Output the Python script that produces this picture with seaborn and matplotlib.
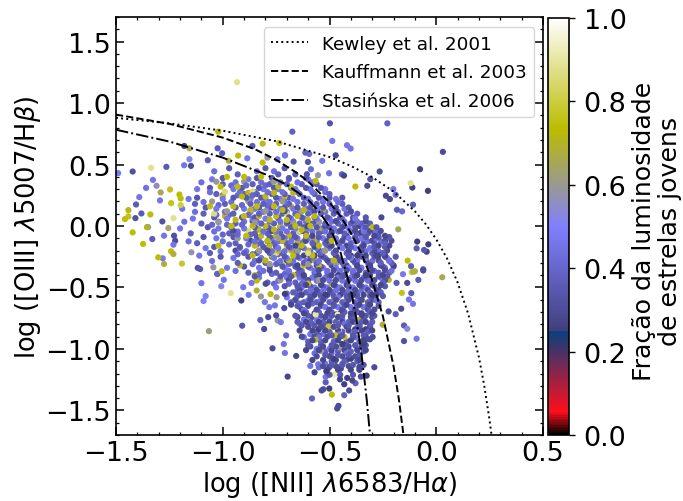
import pandas as pd
import matplotlib
matplotlib.use("Agg")
import matplotlib.pyplot as plt
from matplotlib.cm import ScalarMappable
from matplotlib.colors import Normalize
from matplotlib.ticker import MultipleLocator
import seaborn as sns

# demarcation curves
KEWLEY_X = [-1.5, -1.25, -1.0, -0.75, -0.5, -0.4, -0.3, -0.2, -0.1, -0.05, 0.0, 0.05, 0.1, 0.15, 0.2, 0.225, 0.25, 0.26]
KEWLEY_Y = [0.88, 0.835, 0.775, 0.69, 0.561, 0.489, 0.398, 0.28, 0.12, 0.017, -0.108, -0.262, -0.459, -0.716, -1.069, -1.30, -1.583, -1.715]
KAUFF_X = [-1.5, -1.25, -1.0, -0.85, -0.75, -0.65, -0.6, -0.5, -0.45, -0.4, -0.35, -0.3, -0.25, -0.2, -0.175, -0.153]
KAUFF_Y = [0.906, 0.831, 0.719, 0.625, 0.538, 0.429, 0.362, 0.191, 0.084, -0.056, -0.225, -0.443, -0.733, -1.14, -1.411, -1.705]
STAS_X = [-1.5, -1.25, -1.0, -0.8, -0.7, -0.6, -0.55, -0.5, -0.45, -0.4, -0.375, -0.35, -0.325, -0.31]
STAS_Y = [0.783, 0.687, 0.556, 0.42, 0.335, 0.213, 0.12, -0.007, -0.205, -0.516, -0.748, -1.042, -1.422, -1.702]

# dense cloud, estimated row by row: (log OIII/Hb, [log NII/Ha ...])
MID_ROWS = [
    (0.42, [-0.93, -0.74, -0.66]),
    (0.34, [-1.0, -0.86, -0.78, -0.7, -0.63, -0.56]),
    (0.26, [-1.03, -0.9, -0.84, -0.77, -0.71, -0.64, -0.57, -0.5]),
    (0.18, [-1.13, -0.99, -0.87, -0.81, -0.75, -0.69, -0.62, -0.56, -0.5, -0.44]),
    (0.10, [-1.09, -0.95, -0.83, -0.78, -0.72, -0.66, -0.6, -0.54, -0.48, -0.42, -0.37]),
    (0.02, [-1.1, -0.94, -0.82, -0.76, -0.7, -0.64, -0.58, -0.52, -0.46, -0.4, -0.35, -0.31]),
    (-0.06, [-1.15, -0.97, -0.85, -0.79, -0.73, -0.67, -0.61, -0.55, -0.49, -0.43, -0.37, -0.32, -0.27]),
    (-0.14, [-1.12, -0.94, -0.82, -0.76, -0.7, -0.64, -0.58, -0.52, -0.46, -0.4, -0.34, -0.29, -0.24]),
    (-0.22, [-1.06, -0.9, -0.84, -0.78, -0.72, -0.66, -0.6, -0.54, -0.48, -0.42, -0.36, -0.3, -0.25]),
    (-0.30, [-0.93, -0.8, -0.74, -0.68, -0.62, -0.56, -0.5, -0.44, -0.38, -0.32, -0.26, -0.21]),
    (-0.38, [-0.88, -0.75, -0.69, -0.63, -0.57, -0.51, -0.45, -0.39, -0.33, -0.27, -0.22]),
    (-0.46, [-0.79, -0.66, -0.6, -0.54, -0.48, -0.42, -0.36, -0.3, -0.25]),
    (-0.54, [-0.67, -0.61, -0.55, -0.49, -0.43, -0.37, -0.31, -0.26]),
    (-0.62, [-0.68, -0.62, -0.56, -0.5, -0.44, -0.38, -0.32, -0.27]),
    (-0.70, [-0.61, -0.55, -0.49, -0.43, -0.37, -0.31]),
    (-0.78, [-0.65, -0.59, -0.53, -0.47, -0.41, -0.35, -0.3]),
    (-0.86, [-0.56, -0.5, -0.44, -0.38, -0.32]),
    (-0.94, [-0.6, -0.54, -0.48, -0.42, -0.36]),
    (-1.02, [-0.52, -0.46, -0.4, -0.34]),
    (-1.10, [-0.49, -0.43, -0.37]),
]
MID2_ROWS = [
    (0.47, [-0.97, -0.8, -0.71]),
    (0.39, [-1.0, -0.84, -0.77, -0.69, -0.61]),
    (0.31, [-1.06, -0.91, -0.83, -0.76, -0.68, -0.61, -0.54]),
    (0.23, [-1.12, -0.95, -0.89, -0.82, -0.75, -0.69, -0.62, -0.55, -0.5, -0.44]),
    (0.15, [-1.08, -0.94, -0.83, -0.77, -0.71, -0.65, -0.59, -0.53, -0.47, -0.41]),
    (0.07, [-1.04, -0.91, -0.85, -0.74, -0.69, -0.63, -0.57, -0.51, -0.45, -0.39, -0.33]),
    (-0.01, [-1.07, -0.96, -0.85, -0.79, -0.73, -0.68, -0.62, -0.56, -0.5, -0.44, -0.38, -0.33, -0.28]),
    (-0.09, [-1.09, -0.95, -0.84, -0.78, -0.72, -0.66, -0.61, -0.55, -0.49, -0.43, -0.38, -0.33, -0.27, -0.22]),
    (-0.17, [-1.04, -0.92, -0.81, -0.75, -0.69, -0.63, -0.57, -0.51, -0.45, -0.4, -0.35, -0.29, -0.24]),
    (-0.25, [-1.01, -0.88, -0.77, -0.71, -0.65, -0.59, -0.53, -0.47, -0.41, -0.35, -0.29, -0.24, -0.19]),
    (-0.33, [-0.9, -0.78, -0.72, -0.66, -0.6, -0.54, -0.48, -0.43, -0.37, -0.31, -0.25, -0.2]),
    (-0.41, [-0.85, -0.73, -0.68, -0.62, -0.56, -0.5, -0.44, -0.38, -0.33, -0.27, -0.23]),
    (-0.49, [-0.71, -0.65, -0.59, -0.53, -0.47, -0.41, -0.35, -0.29, -0.24]),
    (-0.57, [-0.65, -0.59, -0.54, -0.48, -0.42, -0.37, -0.31, -0.25]),
    (-0.65, [-0.65, -0.6, -0.54, -0.48, -0.43, -0.37, -0.32, -0.27]),
    (-0.73, [-0.66, -0.6, -0.54, -0.49, -0.44, -0.39, -0.33, -0.29]),
    (-0.81, [-0.63, -0.57, -0.52, -0.46, -0.41, -0.36, -0.31]),
    (-0.89, [-0.55, -0.49, -0.44, -0.39, -0.34]),
    (-0.97, [-0.6, -0.54, -0.49, -0.43, -0.38, -0.33]),
    (-1.05, [-0.52, -0.46, -0.41, -0.36]),
    (-1.13, [-0.49, -0.44, -0.39, -0.34]),
    (-1.21, [-0.5, -0.45, -0.39]),
]
LIGHT_ROWS = [
    (0.38, [-1.05, -0.88, -0.69, -0.6]),
    (0.30, [-1.12, -0.95, -0.81, -0.74, -0.66, -0.59, -0.52]),
    (0.22, [-1.16, -1.0, -0.87, -0.8, -0.73, -0.67, -0.6, -0.53, -0.47]),
    (0.14, [-1.19, -1.03, -0.9, -0.85, -0.79, -0.73, -0.67, -0.61, -0.55, -0.49, -0.43]),
    (0.06, [-1.14, -0.98, -0.86, -0.8, -0.74, -0.68, -0.62, -0.56, -0.5, -0.44, -0.38]),
    (-0.02, [-1.2, -1.02, -0.9, -0.84, -0.78, -0.72, -0.66, -0.6, -0.54, -0.48, -0.41, -0.34]),
    (-0.10, [-1.03, -0.89, -0.83, -0.77, -0.71, -0.65, -0.59, -0.53, -0.47, -0.41, -0.35, -0.28]),
    (-0.18, [-1.08, -0.92, -0.8, -0.74, -0.68, -0.62, -0.56, -0.5, -0.44, -0.38, -0.31]),
    (-0.26, [-0.95, -0.82, -0.76, -0.7, -0.64, -0.58, -0.52, -0.46, -0.4, -0.33, -0.23]),
    (-0.34, [-0.98, -0.83, -0.71, -0.65, -0.59, -0.53, -0.47, -0.41, -0.35, -0.24]),
    (-0.42, [-0.83, -0.7, -0.64, -0.58, -0.52, -0.46, -0.4, -0.34, -0.26]),
    (-0.50, [-0.75, -0.63, -0.57, -0.51, -0.45, -0.39, -0.33]),
    (-0.58, [-0.7, -0.58, -0.52, -0.46, -0.4, -0.29]),
    (-0.66, [-0.64, -0.52, -0.46, -0.4, -0.34]),
    (-0.76, [-0.62, -0.56, -0.5, -0.44, -0.38]),
    (-0.88, [-0.59, -0.53, -0.45, -0.39]),
    (-1.0, [-0.56, -0.5, -0.43, -0.37]),
    (-1.12, [-0.52, -0.44]),
]
LIGHT2_ROWS = [
    (0.445, [-1.04, -0.84, -0.76]),
    (0.355, [-1.1, -0.94, -0.82, -0.73, -0.65, -0.58]),
    (0.275, [-1.06, -0.92, -0.85, -0.79, -0.72, -0.65, -0.58, -0.52]),
    (0.195, [-1.09, -0.96, -0.84, -0.78, -0.71, -0.65, -0.59, -0.53, -0.46]),
    (0.115, [-1.13, -0.99, -0.87, -0.81, -0.75, -0.7, -0.64, -0.58, -0.52, -0.46, -0.4]),
    (0.035, [-1.18, -1.02, -0.9, -0.84, -0.78, -0.73, -0.67, -0.61, -0.55, -0.49, -0.43, -0.37]),
    (-0.045, [-1.04, -0.93, -0.81, -0.75, -0.7, -0.64, -0.58, -0.52, -0.46, -0.4, -0.34, -0.29]),
    (-0.125, [-1.16, -1.0, -0.85, -0.79, -0.74, -0.68, -0.62, -0.56, -0.5, -0.44, -0.38, -0.32, -0.26]),
    (-0.205, [-1.01, -0.89, -0.83, -0.77, -0.71, -0.65, -0.59, -0.53, -0.47, -0.41, -0.33, -0.27]),
    (-0.285, [-1.05, -0.85, -0.73, -0.67, -0.61, -0.55, -0.49, -0.43, -0.37, -0.3, -0.22]),
    (-0.365, [-0.94, -0.81, -0.69, -0.63, -0.57, -0.51, -0.45, -0.39, -0.29, -0.21]),
    (-0.445, [-0.74, -0.62, -0.56, -0.5, -0.44, -0.38, -0.32]),
    (-0.525, [-0.65, -0.59, -0.53, -0.47, -0.41, -0.35, -0.28]),
    (-0.605, [-0.66, -0.6, -0.54, -0.48, -0.42, -0.36, -0.28]),
    (-0.685, [-0.62, -0.56, -0.5, -0.44, -0.38]),
    (-0.795, [-0.64, -0.58, -0.52, -0.43, -0.37]),
    (-0.905, [-0.62, -0.55, -0.47, -0.38]),
    (-1.035, [-0.57, -0.49, -0.42]),
    (-1.15, [-0.55, -0.46, -0.36]),
]
FILL_ROWS = [
    (0.33, [-0.96, -0.89, -0.8]),
    (0.25, [-1.0, -0.93, -0.86]),
    (0.17, [-1.02, -0.91, -0.79]),
    (0.09, [-1.03, -0.97, -0.88]),
    (0.01, [-1.05, -0.98, -0.91]),
    (-0.07, [-1.0, -0.93, -0.87]),
    (-0.15, [-0.97, -0.88, -0.84]),
    (-0.23, [-0.93, -0.86, -0.74]),
    (-0.31, [-0.86, -0.75, -0.69]),
    (-0.39, [-0.83, -0.77, -0.71, -0.65]),
    (-0.47, [-0.76, -0.69, -0.63]),
    (-0.55, [-0.7, -0.64, -0.58]),
    (-0.63, [-0.64, -0.58]),
]
DARK_ROWS = [
    (0.12, [-0.71, -0.57, -0.47, -0.4]),
    (0.04, [-0.86, -0.69, -0.56, -0.47, -0.39, -0.33]),
    (-0.04, [-0.95, -0.77, -0.63, -0.53, -0.45, -0.38, -0.31, -0.26]),
    (-0.12, [-0.87, -0.72, -0.61, -0.51, -0.44, -0.37, -0.3, -0.24, -0.21]),
    (-0.20, [-0.94, -0.79, -0.65, -0.55, -0.47, -0.41, -0.35, -0.29, -0.23]),
    (-0.28, [-0.83, -0.7, -0.59, -0.51, -0.45, -0.39, -0.33, -0.27, -0.22]),
    (-0.36, [-0.78, -0.64, -0.55, -0.48, -0.42, -0.36, -0.3, -0.24]),
    (-0.44, [-0.69, -0.6, -0.53, -0.47, -0.41, -0.35, -0.29, -0.24]),
    (-0.52, [-0.64, -0.56, -0.5, -0.44, -0.38, -0.32, -0.27]),
    (-0.60, [-0.66, -0.59, -0.53, -0.47, -0.41, -0.35, -0.3]),
    (-0.68, [-0.63, -0.56, -0.5, -0.44, -0.38, -0.32, -0.29]),
    (-0.74, [-0.65, -0.58, -0.52, -0.46, -0.4, -0.34, -0.3]),
    (-0.82, [-0.6, -0.54, -0.48, -0.42, -0.36, -0.31]),
    (-0.90, [-0.63, -0.57, -0.51, -0.45, -0.39, -0.33]),
    (-0.98, [-0.59, -0.53, -0.47, -0.41, -0.35]),
    (-1.06, [-0.56, -0.5, -0.44, -0.38]),
    (-1.14, [-0.53, -0.47, -0.41, -0.35]),
]
DARK2_ROWS = [
    (0.0, [-0.6, -0.52, -0.43, -0.36]),
    (-0.08, [-0.68, -0.58, -0.5, -0.42, -0.35, -0.29, -0.24]),
    (-0.16, [-0.66, -0.57, -0.49, -0.42, -0.34, -0.27, -0.22]),
    (-0.24, [-0.62, -0.54, -0.47, -0.4, -0.33, -0.28, -0.24]),
    (-0.32, [-0.65, -0.56, -0.49, -0.42, -0.37, -0.31, -0.26, -0.2]),
    (-0.40, [-0.62, -0.55, -0.49, -0.43, -0.37, -0.31, -0.25]),
    (-0.48, [-0.61, -0.54, -0.48, -0.42, -0.36, -0.3, -0.26]),
    (-0.56, [-0.63, -0.57, -0.51, -0.45, -0.4, -0.34, -0.28]),
    (-0.64, [-0.68, -0.6, -0.54, -0.48, -0.42, -0.36, -0.31]),
    (-0.71, [-0.62, -0.57, -0.51, -0.45, -0.4, -0.35, -0.3]),
    (-0.78, [-0.61, -0.55, -0.5, -0.44, -0.39, -0.33]),
    (-0.85, [-0.64, -0.58, -0.52, -0.46, -0.41, -0.35, -0.3]),
    (-0.93, [-0.58, -0.52, -0.46, -0.4, -0.34]),
    (-1.01, [-0.61, -0.55, -0.49, -0.43, -0.37, -0.33]),
    (-1.09, [-0.58, -0.53, -0.47, -0.42, -0.36]),
    (-1.17, [-0.51, -0.46, -0.4, -0.36]),
]
NAVY_ROWS = [
    (-0.05, [-0.49, -0.35]),
    (-0.24, [-0.57, -0.37, -0.27]),
    (-0.40, [-0.46, -0.33]),
    (-0.56, [-0.52, -0.39, -0.3]),
    (-0.72, [-0.47, -0.35]),
    (-0.84, [-0.55, -0.38, -0.33]),
    (-0.96, [-0.44, -0.34]),
    (-1.08, [-0.48, -0.4]),
]
YELLOW_ROWS = [
    (0.40, [-0.98, -0.9, -0.82]),
    (0.32, [-1.01, -0.93, -0.74, -0.68]),
    (0.24, [-1.0, -0.91, -0.8, -0.71]),
    (0.16, [-1.06, -0.95, -0.84, -0.76, -0.68]),
    (0.08, [-0.99, -0.9, -0.83, -0.75, -0.65, -0.57]),
    (0.0, [-0.96, -0.86, -0.8, -0.73, -0.66, -0.59]),
    (-0.08, [-0.89, -0.82, -0.75, -0.69, -0.61]),
    (-0.16, [-1.02, -0.85, -0.78, -0.7, -0.63, -0.55]),
    (-0.24, [-0.86, -0.77, -0.67, -0.58]),
    (-0.32, [-0.92, -0.72, -0.62, -0.55]),
    (-0.40, [-0.85, -0.67, -0.56]),
]
YELLOW2_ROWS = [
    (0.27, [-0.88, -0.76, -0.67]),
    (0.13, [-0.87, -0.72, -0.62, -0.53]),
    (0.05, [-0.94, -0.78, -0.7, -0.6]),
    (-0.03, [-0.83, -0.76, -0.63, -0.55]),
    (-0.12, [-0.79, -0.72, -0.65, -0.57, -0.49]),
    (-0.2, [-0.74, -0.68, -0.6, -0.52]),
    (-0.28, [-0.8, -0.69, -0.57, -0.48]),
    (-0.47, [-0.6, -0.49]),
    (-0.6, [-0.47]),
]
GRAY_ROWS = [
    (0.36, [-1.03, -0.9, -0.76]),
    (0.20, [-1.05, -0.88, -0.72]),
    (0.12, [-0.98, -0.8, -0.63]),
    (0.03, [-1.02, -0.85, -0.67, -0.55]),
    (-0.10, [-0.93, -0.74, -0.58]),
    (-0.2, [-0.83, -0.65, -0.52]),
    (-0.31, [-0.78, -0.6, -0.47]),
    (-0.44, [-0.73, -0.55]),
]
PALE_ROWS = [
    (0.28, [-0.99, -0.86]),
    (0.1, [-1.04, -0.7]),
    (-0.04, [-0.88, -0.64]),
    (-0.22, [-0.75, -0.6]),
]

# sparse points read one by one: (log NII/Ha, log OIII/Hb, young fraction)
LOOSE_POINTS = [
    (-0.498, 0.835, 0.33), (-0.229, 0.835, 0.38), (-0.674, 0.767, 0.38), (-0.487, 0.692, 0.46), (-0.418, 0.657, 0.46),
    (-0.401, 0.63, 0.46), (0.031, 0.603, 0.3), (-0.471, 0.575, 0.29), (-0.613, 0.597, 0.38), (-0.595, 0.586, 0.42),
    (-0.668, 0.524, 0.33), (-0.601, 0.521, 0.33), (-0.534, 0.53, 0.45), (-0.709, 0.575, 0.45), (-0.587, 0.462, 0.42),
    (-0.606, 0.421, 0.33), (-0.554, 0.413, 0.58), (-0.502, 0.429, 0.45), (-0.432, 0.41, 0.27), (-0.442, 0.421, 0.38),
    (-0.265, 0.443, 0.3), (-0.076, 0.462, 0.25), (-0.12, 0.348, 0.88), (-0.112, 0.313, 0.25), (-0.039, 0.286, 0.25),
    (-0.201, 0.30, 0.47), (-0.19, 0.254, 0.42), (-0.236, 0.246, 0.29), (-0.217, 0.219, 0.29), (-0.109, 0.173, 0.36),
    (-0.184, 0.132, 0.36), (-0.16, 0.119, 0.4), (-0.309, 0.381, 0.33), (-0.323, 0.327, 0.3), (-0.379, 0.321, 0.74),
    (-0.565, 0.367, 0.74), (-0.178, -0.027, 0.65), (-0.298, -0.009, 0.74), (-0.257, 0.07, 0.29), (-0.089, -0.127, 0.25),
    (-0.037, -0.149, 0.25), (-0.092, -0.182, 0.36), (-0.057, -0.195, 0.34), (-0.045, -0.209, 0.25), (-0.134, -0.282, 0.74),
    (-0.118, -0.327, 0.36), (-0.10, -0.368, 0.7), (-0.115, -0.376, 0.82), (-0.061, -0.352, 0.36), (0.028, -0.417, 0.66),
    (-0.156, -0.392, 0.47), (-1.021, 0.767, 0.72), (-0.813, 0.67, 0.74), (-0.735, 0.675, 0.74), (-0.861, 0.651, 0.36),
    (-1.18, 0.651, 0.26), (-1.156, 0.632, 0.66), (-1.003, 0.592, 0.36), (-1.024, 0.632, 0.36), (-0.928, 0.573, 0.74),
    (-1.156, 0.543, 0.53), (-1.07, 0.535, 0.36), (-0.972, 0.53, 0.68), (-0.885, 0.551, 0.46), (-0.813, 0.516, 0.74),
    (-0.791, 0.556, 0.6), (-0.744, 0.543, 0.46), (-0.708, 0.575, 0.44), (-1.336, 0.473, 0.88), (-1.422, 0.443, 0.32),
    (-1.264, 0.481, 0.36), (-1.181, 0.494, 0.46), (-1.149, 0.489, 0.3), (-1.49, 0.43, 0.47), (-1.327, 0.375, 0.46),
    (-1.359, 0.31, 0.44), (-1.31, 0.327, 0.56), (-1.247, 0.297, 0.76), (-1.291, 0.273, 0.66), (-1.391, 0.235, 0.46),
    (-1.294, 0.208, 0.46), (-1.406, 0.175, 0.36), (-1.442, 0.129, 0.72), (-1.442, 0.078, 0.76), (-1.458, 0.056, 0.74),
    (-1.409, 0.064, 0.32), (-1.381, 0.102, 0.36), (-1.339, 0.094, 0.74), (-1.355, -0.009, 0.7), (-1.35, -0.009, 0.53),
    (-1.422, -0.052, 0.74), (-1.33, -0.106, 0.36), (-1.373, -0.146, 0.74), (-1.302, -0.255, 0.74), (-1.281, -0.263, 0.47),
    (-1.275, -0.309, 0.68), (-1.191, -0.306, 0.78), (-1.283, 0.037, 0.32), (-1.255, -0.017, 0.64), (-1.231, 0.064, 0.88),
    (-1.197, 0.17, 0.8), (-1.203, 0.256, 0.74), (-1.197, 0.224, 0.74), (-1.242, 0.186, 0.76), (-1.275, -0.079, 0.46),
    (-1.228, -0.079, 0.32), (-1.223, -0.12, 0.3), (-1.231, -0.152, 0.46), (-1.242, -0.206, 0.74), (-1.231, -0.228, 0.68),
    (-1.147, -0.214, 0.58), (-1.11, -0.241, 0.46), (-1.117, -0.341, 0.32), (-1.106, -0.35, 0.34), (-1.044, -0.336, 0.58),
    (-1.025, -0.39, 0.46), (-1.005, -0.368, 0.74), (-0.933, 1.17, 0.88), (-1.065, -0.855, 0.62), (-0.962, -0.546, 0.88),
    (-0.913, -0.606, 0.25), (-0.909, -0.811, 0.34), (-0.806, -0.838, 0.3), (-0.824, -0.765, 0.38), (-0.767, -0.995, 0.3),
    (-0.714, -0.96, 0.45), (-0.709, -1.033, 0.45), (-0.703, -0.89, 0.4), (-0.696, -1.225, 0.28), (-0.656, -1.057, 0.28),
    (-0.57, -1.19, 0.28), (-0.59, -1.138, 0.45), (-0.553, -1.125, 0.45), (-0.582, -1.403, 0.38), (-0.537, -1.338, 0.3),
    (-0.529, -1.328, 0.3), (-0.501, -1.322, 0.25), (-0.489, -1.371, 0.74), (-0.431, -1.376, 0.38), (-0.408, -1.338, 0.3),
    (-0.464, -1.484, 0.3), (-0.458, -1.463, 0.3), (-0.431, -1.287, 0.25), (-0.378, -1.279, 0.38), (-0.393, -1.257, 0.28),
    (-0.417, -1.236, 0.25), (-0.451, -1.247, 0.28), (-0.353, -1.225, 0.3), (-0.326, -1.217, 0.25), (-0.29, -1.149, 0.3),
    (-0.359, -1.146, 0.28), (-0.518, -1.271, 0.36), (-0.518, -1.228, 0.45), (-0.478, -1.209, 0.92), (-0.515, -1.182, 0.25),
    (-0.5, -1.146, 0.29), (-0.447, -1.16, 0.28), (-0.092, -0.917, 0.46), (-0.151, -0.936, 0.32), (-0.136, -0.836, 0.53),
    (-0.151, -0.809, 0.36), (-0.164, -0.673, 0.3), (-0.19, -0.717, 0.36), (-0.251, -0.803, 0.68), (-0.223, -0.695, 0.3),
    (-0.109, -0.633, 0.46), (-0.128, -0.598, 0.46), (-0.161, -0.544, 0.76), (-0.117, -0.546, 0.36), (-0.186, -0.463, 0.36),
    (-0.136, -0.463, 0.3), (-0.222, -0.438, 0.72), (-0.108, -0.371, 0.68), (-0.084, -0.438, 0.36), (-0.061, -0.362, 0.3),
    (-0.298, -0.903, 0.3), (-0.311, -0.922, 0.3), (-0.334, -0.93, 0.3), (-0.326, -0.849, 0.47), (-0.311, -0.849, 0.47),
    (-0.347, -0.603, 0.75), (-0.565, -0.719, 0.9), (-0.462, -0.722, 0.92), (-0.504, -0.817, 0.78), (-0.472, -0.817, 0.76),
    (-0.456, -0.855, 0.86), (-0.473, -0.887, 0.75), (-0.429, -0.903, 0.75), (-0.356, -0.76, 0.7), (-0.539, -1.017, 0.6),
    (-0.451, -0.987, 0.6), (-0.565, -0.925, 0.68), (-0.743, -0.768, 0.6),
    (-1.1, -0.465, 0.45), (-1.026, -0.39, 0.38), (-0.995, -0.438, 0.46), (-1.007, -0.49, 0.52), (-1.08, -0.57, 0.5),
    (-1.09, -0.61, 0.5), (-0.904, -0.498, 0.46), (-0.865, -0.463, 0.46), (-0.841, -0.444, 0.74), (-0.841, -0.525, 0.68),
    (-0.879, -0.56, 0.46), (-0.821, -0.573, 0.6), (-0.776, -0.554, 0.74), (-0.799, -0.47, 0.3), (-0.748, -0.579, 0.6),
    (-0.709, -0.552, 0.25), (-0.803, -0.619, 0.46), (-0.782, -0.66, 0.46), (-0.756, -0.646, 0.46), (-0.712, -0.668, 0.3),
    (-0.787, -0.741, 0.3), (-0.75, -0.727, 0.3), (-0.728, -0.782, 0.46),
]
GROUP_FRACTIONS = {"mid": 0.37, "mid2": 0.34, "light": 0.46, "light2": 0.43, "fill": 0.4, "dark": 0.3, "dark2": 0.28,
                   "navy": 0.25, "yellow": 0.74, "yellow2": 0.72, "gray": 0.6, "pale": 0.86}

rows = []
for rows_group, name in [(MID_ROWS, "mid"), (MID2_ROWS, "mid2"), (LIGHT_ROWS, "light"), (LIGHT2_ROWS, "light2"),
                         (FILL_ROWS, "fill"), (DARK_ROWS, "dark"), (DARK2_ROWS, "dark2"), (NAVY_ROWS, "navy"),
                         (GRAY_ROWS, "gray"), (YELLOW_ROWS, "yellow"), (YELLOW2_ROWS, "yellow2"), (PALE_ROWS, "pale")]:
    for oiii, nii_values in rows_group:
        for nii in nii_values:
            rows.append((nii, oiii, GROUP_FRACTIONS[name]))
rows += LOOSE_POINTS
df = pd.DataFrame(rows, columns=["nii", "oiii", "frac"])
# mix the drawing order, yellow dots and the dark core come out on top more often
order = (df["nii"] * 997 + df["oiii"] * 613) % 1
order = order + 0.25 * (df["frac"] > 0.55) + 0.5 * ((df["oiii"] < -0.35) & (df["frac"] < 0.35))
df = df.iloc[order.argsort()]

sns.set_style("ticks")
plt.rcParams["font.family"] = ["DejaVu Sans"]
plt.rcParams["mathtext.fontset"] = "dejavusans"
plt.rcParams.update({"text.color": "k", "axes.labelcolor": "k", "xtick.color": "k", "ytick.color": "k", "axes.edgecolor": "k"})

W, H = 683, 502
fig = plt.figure(figsize=(W / 100, H / 100), dpi=100)
ax = fig.add_axes([116 / W, (H - 436) / H, 427 / W, 418 / H])
cax = fig.add_axes([548 / W, (H - 436) / H, 21 / W, 417 / H])

sns.scatterplot(data=df, x="nii", y="oiii", hue="frac", palette="gist_stern", hue_norm=(0, 1),
                s=20, linewidth=0, legend=False, ax=ax, zorder=2)

for xs, ys, ls, label in [(KEWLEY_X, KEWLEY_Y, ":", "Kewley et al. 2001"),
                          (KAUFF_X, KAUFF_Y, "--", "Kauffmann et al. 2003"),
                          (STAS_X, STAS_Y, "-.", "Stasińska et al. 2006")]:
    sns.lineplot(x=xs, y=ys, sort=False, estimator=None, color="k", linestyle=ls, linewidth=1.4,
                 label=label, ax=ax, zorder=3)

ax.set_xlim(-1.5, 0.5)
ax.set_ylim(-1.7, 1.7)
ax.xaxis.set_major_locator(MultipleLocator(0.5))
ax.xaxis.set_minor_locator(MultipleLocator(0.1))
ax.yaxis.set_major_locator(MultipleLocator(0.5))
ax.yaxis.set_minor_locator(MultipleLocator(0.1))
ax.tick_params(which="major", direction="in", top=True, right=True, length=5.5, width=1.1, labelsize=19.5, pad=3.5)
ax.tick_params(which="minor", direction="in", top=True, right=True, length=2.5, width=0.9)
ax.set_xlabel(r"log ([NII] $\lambda$6583/H$\alpha$)", fontsize=18.5, labelpad=2.5)
ax.set_ylabel(r"log ([OIII] $\lambda$5007/H$\beta$)", fontsize=18.5, labelpad=2)
for spine in ax.spines.values():
    spine.set_linewidth(1.2)

ax.legend(loc="upper right", fontsize=13.2, frameon=True, framealpha=0.8, edgecolor="0.8", labelspacing=0.58,
          bbox_to_anchor=(0.98, 0.975), borderaxespad=0)

sm = ScalarMappable(norm=Normalize(0, 1), cmap="gist_stern")
cb = fig.colorbar(sm, cax=cax)
cb.set_ticks([0, 0.2, 0.4, 0.6, 0.8, 1.0])
cb.minorticks_off()
cb.ax.tick_params(length=4.5, width=1, labelsize=19.5, pad=6)
cb.set_label("Fração da luminosidade\nde estrelas jovens", fontsize=18.2, linespacing=1.12)
cb.ax.yaxis.set_label_coords(4.0, 0.49)
cb.outline.set_linewidth(1.2)

fig.savefig("out.png", dpi=100)
